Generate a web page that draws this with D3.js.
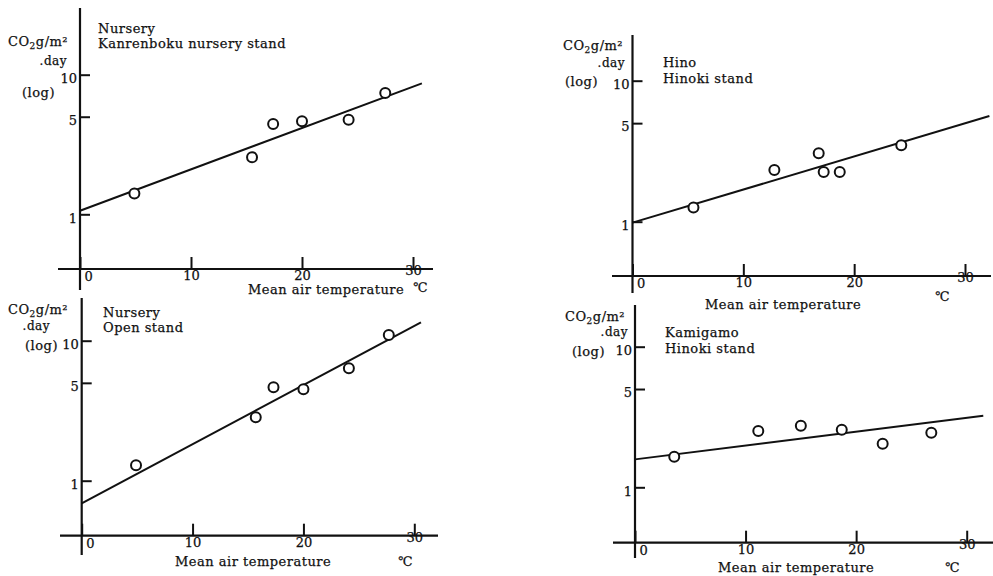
<!DOCTYPE html>
<html>
  <head>
    <title>Respiration vs temperature</title>
    <script src="https://d3js.org/d3.v7.min.js"></script>
    <style>
      body { margin: 0; background: white; }
      text {
        font-family: "DejaVu Serif", "Liberation Serif", serif;
        font-size: 13px;
        fill: #111;
        stroke: #111;
        stroke-width: 0.25px;
        letter-spacing: 0.5px;
      }
      .tick text { letter-spacing: 0; }
      .small { font-size: 12px; }
    </style>
  </head>
  <body>
    <script>

      // values
      let xTicks = [0, 10, 20, 30];
      let yTicks = [1, 5, 10];

      let sites  = ["Nursery", "Hino", "Nursery", "Kamigamo"];
      let stands = ["Kanrenboku nursery stand", "Hinoki stand", "Open stand", "Hinoki stand"];

      let tempA = [4.9, 15.5, 17.4, 20.0, 24.2, 27.5];
      let respA = [1.41, 2.56, 4.43, 4.64, 4.76, 7.39];

      let tempB = [5.5, 12.8, 16.8, 17.25, 18.7, 24.25];
      let respB = [1.26, 2.33, 3.06, 2.25, 2.25, 3.48];

      let tempC = [4.9, 15.7, 17.3, 20.0, 24.1, 27.7];
      let respC = [1.29, 2.84, 4.65, 4.5, 6.35, 11.0];

      let tempD = [3.55, 11.15, 15.0, 18.7, 22.4, 26.8];
      let respD = [1.65, 2.51, 2.74, 2.57, 2.04, 2.44];

      let temps = [tempA, tempB, tempC, tempD];
      let resps = [respA, respB, respC, respD];

      // fitted lines: value at 0 C, and end point
      let fitStart   = [1.06, 0.985, 0.69, 1.58];
      let fitEndTemp = [30.8, 32.2, 30.6, 31.5];
      let fitEnd     = [8.67, 5.62, 13.5, 3.23];

      // where each panel sits on the page
      let layout = [
        { x0: 80, x30: 413, y1: 214.3, y10: 74.7, axisY: 269, yTop: 8, yBot: 290, xLeft: 58, xRight: 433,
          co2: [8, 46], day: [67, 65], log: [22, 97], site: [98, 33], stand: [98, 48], xlab: [248, 294], deg: [413, 292] },
        { x0: 632.5, x30: 965, y1: 221.7, y10: 80.7, axisY: 276, yTop: 35, yBot: 293, xLeft: 612, xRight: 991,
          co2: [563, 50], day: [625, 67], log: [565, 86], site: [663, 67], stand: [663, 83], xlab: [705, 309], deg: [935, 301] },
        { x0: 81.7, x30: 414.3, y1: 480.7, y10: 340.7, axisY: 535.7, yTop: 298, yBot: 555, xLeft: 60, xRight: 438,
          co2: [8, 314], day: [50, 330], log: [25, 350], site: [103, 317], stand: [103, 332], xlab: [175, 566], deg: [398, 566] },
        { x0: 635, x30: 966.7, y1: 487.3, y10: 346.7, axisY: 542.7, yTop: 305, yBot: 558, xLeft: 613, xRight: 993,
          co2: [565, 321], day: [628, 336], log: [572, 356], site: [665, 337], stand: [665, 353], xlab: [718, 572], deg: [945, 572] }
      ];

      let svg = d3.select("body").append("svg")
                  .attr("width", 993)
                  .attr("height", 576)

      layout.forEach(function(L, i) {

        let g = svg.append("g")

        let x = d3.scaleLinear().domain([0, 30]).range([L.x0, L.x30])
        let y = d3.scaleLog().domain([1, 10]).range([L.y1, L.y10])

        // axis lines run past the scale ends
        g.append("line").attr("x1", L.x0).attr("x2", L.x0).attr("y1", L.yTop).attr("y2", L.yBot)
         .attr("stroke", "#111").attr("stroke-width", 2.2)
        g.append("line").attr("x1", L.xLeft).attr("x2", L.xRight).attr("y1", L.axisY).attr("y2", L.axisY)
         .attr("stroke", "#111").attr("stroke-width", 2.2)

        let xAxis = g.append("g")
                     .attr("transform", `translate(0, ${L.axisY})`)
                     .call(d3.axisBottom(x).tickValues(xTicks).tickSizeInner(-12).tickSizeOuter(0).tickPadding(2))
        xAxis.attr("font-family", null).attr("font-size", null)
        xAxis.select(".domain").remove()
        xAxis.selectAll(".tick line").attr("stroke", "#111").attr("stroke-width", 2)
        xAxis.selectAll(".tick text").attr("fill", "#111")
             .each(function(d) {
               if (d === 0) d3.select(this).attr("text-anchor", "start").attr("x", 4).attr("y", 3)
               if (d === 30) d3.select(this).attr("y", -3)
             })

        let yAxis = g.append("g")
                     .attr("transform", `translate(${L.x0}, 0)`)
                     .call(d3.axisLeft(y).tickValues(yTicks).tickFormat(d3.format("d"))
                             .tickSizeInner(-10).tickSizeOuter(0).tickPadding(3))
        yAxis.attr("font-family", null).attr("font-size", null)
        yAxis.select(".domain").remove()
        yAxis.selectAll(".tick line").attr("stroke", "#111").attr("stroke-width", 2)
        yAxis.selectAll(".tick text").attr("fill", "#111").attr("dy", "0.6em")

        // fitted line
        let fit = [[0, fitStart[i]], [fitEndTemp[i], fitEnd[i]]]
        g.append("path")
         .attr("d", d3.line().x(d => x(d[0])).y(d => y(d[1]))(fit))
         .attr("fill", "none").attr("stroke", "#111").attr("stroke-width", 2)

        // observations
        g.selectAll("circle").data(d3.zip(temps[i], resps[i]))
         .enter().append("circle")
         .attr("cx", d => x(d[0]))
         .attr("cy", d => y(d[1]))
         .attr("r", 5)
         .attr("fill", "white").attr("stroke", "#111").attr("stroke-width", 2)

        // labels
        let co2 = g.append("text").attr("x", L.co2[0]).attr("y", L.co2[1])
        co2.append("tspan").text("CO")
        co2.append("tspan").attr("font-size", 9).attr("dy", 3).text("2")
        co2.append("tspan").attr("dy", -3).text("g/m²")

        g.append("text").attr("class", "small").attr("x", L.day[0]).attr("y", L.day[1])
         .attr("text-anchor", "end").text(".day")
        g.append("text").attr("x", L.log[0]).attr("y", L.log[1]).text("(log)")
        g.append("text").attr("x", L.site[0]).attr("y", L.site[1]).text(sites[i])
        g.append("text").attr("x", L.stand[0]).attr("y", L.stand[1]).text(stands[i])
        g.append("text").attr("x", L.xlab[0]).attr("y", L.xlab[1]).text("Mean air temperature")
        g.append("text").attr("x", L.deg[0]).attr("y", L.deg[1]).text("℃")
      })

    </script>
  </body>
</html>
